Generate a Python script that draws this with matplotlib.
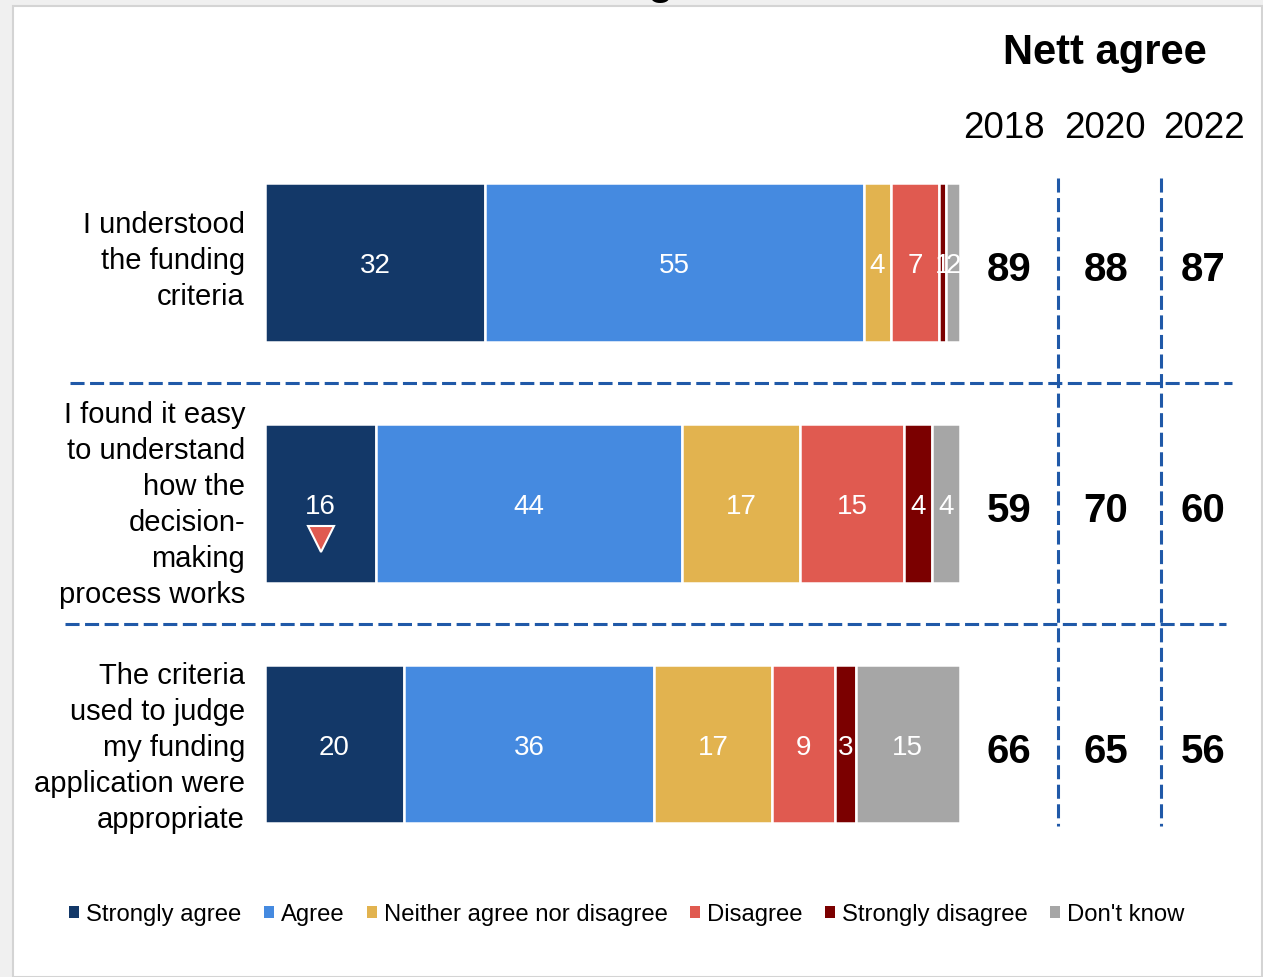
import matplotlib
matplotlib.use("Agg")
import matplotlib.pyplot as plt
from matplotlib.patches import Rectangle, Patch
from matplotlib.lines import Line2D
import matplotlib.transforms as mtransforms

plt.rcParams['font.family'] = ['Liberation Sans', 'DejaVu Sans']

# ---- data -------------------------------------------------------------
statements = [
    "I understood\nthe funding\ncriteria",
    "I found it easy\nto understand\nhow the\ndecision-\nmaking\nprocess works",
    "The criteria\nused to judge\nmy funding\napplication were\nappropriate",
]
responses = ["Strongly agree", "Agree", "Neither agree nor disagree",
             "Disagree", "Strongly disagree", "Don't know"]
strongly_agree = [32, 16, 20]
agree = [55, 44, 36]
neither = [4, 17, 17]
disagree = [7, 15, 9]
strongly_disagree = [1, 4, 3]
dont_know = [2, 4, 15]
years = ["2018", "2020", "2022"]
nett_2018 = [89, 59, 66]
nett_2020 = [88, 70, 65]
nett_2022 = [87, 60, 56]
significant_drop = [False, True, False]   # marks the 'Strongly agree' segment

colors = ["#133868", "#458ae0", "#e2b34f", "#e05a50", "#7b0000", "#a6a6a6"]
dash_blue = "#2059a8"

W, H = 1263, 977
fig = plt.figure(figsize=(W / 100, H / 100), dpi=100)
fig.patch.set_facecolor("#f0f0f0")

# white panel with a thin grey frame
fig.patches.append(Rectangle((13 / W, 0), (1262 - 13) / W, 1 - 6 / H,
                             transform=fig.transFigure, facecolor="white",
                             edgecolor="#d4d4d4", linewidth=1.5, zorder=-5))

# bar axes: rows 0..2 centred at pixel rows 262, 503, 744
row_px = 241
top_px = 262 - row_px / 2
bot_px = 744 + row_px / 2
ax = fig.add_axes([265 / W, 1 - bot_px / H, (960 - 265) / W, (bot_px - top_px) / H])
ax.set_xlim(0, 100)
ax.set_ylim(2.5, -0.5)
ax.axis("off")
ax.patch.set_alpha(0)

px = 1.0 / row_px          # one pixel in row units
series = [strongly_agree, agree, neither, disagree, strongly_disagree, dont_know]
bar_h = 159 / row_px
label_shift = [-1 * px, 2 * px, 4 * px]
for r in range(len(statements)):
    total = sum(s[r] for s in series)
    left = 0.0
    for k, s in enumerate(series):
        w = s[r] * 100.0 / total
        ax.barh(r, w, left=left, height=bar_h, color=colors[k],
                edgecolor="white", linewidth=1.8)
        ax.text(left + w / 2, r + 4 * px, str(s[r]), ha="center", va="center",
                color="white", fontsize=20)
        if k == 0 and significant_drop[r]:
            ax.plot(left + w / 2, r + 0.15, marker="v", markersize=19,
                    color="#e05a50", markeredgecolor="white",
                    markeredgewidth=1.5, linestyle="none")
        left += w
    ax.text(-20 * 100 / 695, r + label_shift[r], statements[r], ha="right",
            va="center", fontsize=21, linespacing=1.36)

# nett agree columns
blend = mtransforms.blended_transform_factory(fig.transFigure, ax.transData)
col_x = [1009 / W, 1106 / W, 1203 / W]
for cx, vals in zip(col_x, [nett_2018, nett_2020, nett_2022]):
    for r, v in enumerate(vals):
        ax.text(cx, r + 8 * px, str(v), transform=blend, ha="center",
                va="center", fontsize=29, fontweight="bold")

year_x = [1004 / W, 1105 / W, 1204 / W]
for yx, y in zip(year_x, years):
    fig.text(yx, 1 - 129 / H, y, ha="center", va="center", fontsize=26.5)
fig.text(1105 / W, 1 - 53 / H, "Nett agree", ha="center", va="center",
         fontsize=30, fontweight="bold")

# clipped title descender at top edge
fig.text(660 / W, 1 + 6 / H, "g", ha="center", va="baseline",
         fontsize=30, fontweight="bold")

# dashed separators
dash = (0, (4.6, 1.8))
for ypos, x0, x1 in [(0.5, 70, 1232), (1.5, 65, 1226)]:
    fig.add_artist(Line2D([x0 / W, x1 / W], [ypos, ypos], transform=blend,
                          color=dash_blue, linewidth=2.2, linestyle=dash))
for xp in [1058, 1161]:
    fig.add_artist(Line2D([xp / W, xp / W], [-0.35, 2.34], transform=blend,
                          color=dash_blue, linewidth=2.2, linestyle=dash))

# legend
handles = [Patch(facecolor=c, edgecolor="none") for c in colors]
fig.legend(handles, responses, loc="center", ncol=6,
           bbox_to_anchor=(627 / W, 1 - 915 / H), frameon=False,
           fontsize=17.2, handlelength=0.4, handleheight=0.4,
           handletextpad=0.3, columnspacing=0.95, borderpad=0)

fig.savefig("out.png", dpi=100, facecolor=fig.get_facecolor())
